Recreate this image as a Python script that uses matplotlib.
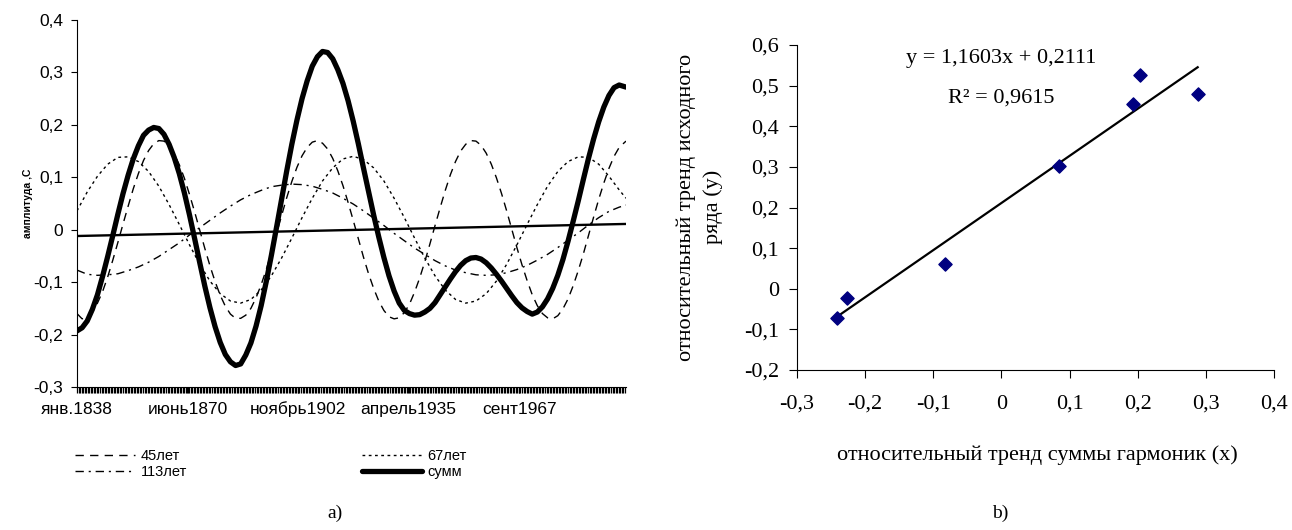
import numpy as np
import matplotlib.pyplot as plt
from matplotlib.ticker import FuncFormatter, FixedLocator

W, H = 1292, 530

# ---- left panel: harmonics ----
# fine grid (every 1.5 years) for the fast 45-year wave and the sum
years_fine = list(np.arange(1838, 1997.5, 1.5)) + [1999]
# coarse grid (every 3 years) for the slow 67- and 113-year waves
years = list(range(1838, 1998, 3)) + [1999]

h45 = [-0.160, -0.170, -0.167, -0.157, -0.140, -0.118, -0.090, -0.058, -0.024, 0.011,
       0.045, 0.078, 0.107, 0.132, 0.151, 0.164, 0.170, 0.169, 0.160, 0.145,
       0.124, 0.098, 0.067, 0.034, -0.001, -0.036, -0.069, -0.099, -0.125, -0.146,
       -0.161, -0.169, -0.169, -0.163, -0.150, -0.130, -0.105, -0.076, -0.043, -0.008,
       0.027, 0.061, 0.092, 0.119, 0.141, 0.157, 0.167, 0.170, 0.165, 0.154,
       0.136, 0.112, 0.084, 0.052, 0.018, -0.017, -0.052, -0.084, -0.112, -0.136,
       -0.154, -0.166, -0.170, -0.168, -0.158, -0.142, -0.119, -0.092, -0.061, -0.027,
       0.008, 0.042, 0.075, 0.105, 0.130, 0.150, 0.163, 0.170, 0.169, 0.161,
       0.146, 0.125, 0.099, 0.069, 0.036, 0.001, -0.034, -0.067, -0.097, -0.124,
       -0.145, -0.160, -0.168, -0.170, -0.164, -0.151, -0.132, -0.107, -0.078, -0.046,
       -0.011, 0.024, 0.058, 0.089, 0.117, 0.140, 0.157, 0.169]

summ = [-0.193, -0.187, -0.174, -0.152, -0.124, -0.089, -0.051, -0.011, 0.030, 0.069,
        0.104, 0.135, 0.160, 0.180, 0.190, 0.195, 0.193, 0.182, 0.163, 0.138,
        0.107, 0.070, 0.028, -0.017, -0.063, -0.108, -0.149, -0.185, -0.215, -0.238,
        -0.252, -0.259, -0.256, -0.239, -0.216, -0.184, -0.145, -0.099, -0.049, 0.004,
        0.058, 0.112, 0.163, 0.209, 0.250, 0.284, 0.312, 0.330, 0.340, 0.338,
        0.326, 0.305, 0.279, 0.246, 0.207, 0.164, 0.118, 0.073, 0.028, -0.014,
        -0.053, -0.088, -0.117, -0.140, -0.154, -0.160, -0.163, -0.162, -0.157, -0.150,
        -0.139, -0.124, -0.109, -0.094, -0.080, -0.068, -0.059, -0.054, -0.053, -0.056,
        -0.063, -0.073, -0.085, -0.098, -0.112, -0.126, -0.139, -0.149, -0.156, -0.161,
        -0.157, -0.147, -0.132, -0.112, -0.087, -0.057, -0.022, 0.016, 0.055, 0.096,
        0.136, 0.173, 0.206, 0.234, 0.256, 0.271, 0.276, 0.272]

h67 = [0.036, 0.072, 0.102, 0.125, 0.138, 0.139, 0.130, 0.111, 0.083, 0.048,
       0.010, -0.029, -0.066, -0.098, -0.122, -0.136, -0.140, -0.133, -0.115, -0.088,
       -0.054, -0.016, 0.023, 0.060, 0.093, 0.118, 0.135, 0.140, 0.134, 0.118,
       0.093, 0.060, 0.023, -0.016, -0.054, -0.088, -0.115, -0.133, -0.140, -0.136,
       -0.122, -0.098, -0.066, -0.029, 0.010, 0.048, 0.083, 0.111, 0.130, 0.139,
       0.138, 0.125, 0.102, 0.076, 0.060]

h113 = [-0.077, -0.085, -0.087, -0.086, -0.084, -0.078, -0.071, -0.062, -0.051, -0.038,
        -0.025, -0.010, 0.004, 0.018, 0.032, 0.045, 0.057, 0.067, 0.075, 0.082,
        0.085, 0.087, 0.086, 0.083, 0.077, 0.070, 0.060, 0.049, 0.036, 0.022,
        0.008, -0.007, -0.021, -0.035, -0.047, -0.059, -0.069, -0.077, -0.082, -0.086,
        -0.087, -0.086, -0.082, -0.076, -0.068, -0.058, -0.047, -0.034, -0.020, -0.006,
        0.009, 0.023, 0.035, 0.043, 0.047]

trend_years = [1838, 1999]
trend_vals = [-0.012, 0.011]

xtick_pos = [1838.0, 1838 + 389 / 12, 1838 + 778 / 12, 1838 + 1167 / 12, 1838 + 1556 / 12]
xtick_labels = ["янв.1838", "июнь1870", "ноябрь1902", "апрель1935", "сент1967"]

# ---- right panel: regression ----
x_rel = [-0.241, -0.227, -0.083, 0.084, 0.193, 0.204, 0.288]
y_rel = [-0.073, -0.023, 0.060, 0.301, 0.455, 0.526, 0.480]
slope, intercept = 1.1603, 0.2111
r2 = 0.9615


def comma(v, pos=None):
    if abs(v) < 1e-9:
        return "0"
    return f"{v:.1f}".replace(".", ",")


fig = plt.figure(figsize=(W / 100, H / 100), dpi=100)

# left chart
sans = "Liberation Sans"
ax1 = fig.add_axes([77 / W, 1 - 387 / H, (626 - 77) / W, (387 - 20) / H])
l45, = ax1.plot(years_fine, h45, color="k", lw=1.0, ls=(0, (6, 4.5)))
l67, = ax1.plot(years, h67, color="k", lw=1.0, ls=(0, (2, 2.5)))
l113, = ax1.plot(years, h113, color="k", lw=1.0, ls=(0, (6, 3.5, 1.5, 3.5)))
ax1.plot(trend_years, trend_vals, color="k", lw=1.7)
lsum, = ax1.plot(years_fine, summ, color="k", lw=3.8, solid_capstyle="round",
                 solid_joinstyle="round")
ax1.set_xlim(1838, 1999)
ax1.set_ylim(-0.3, 0.4)
for s in ("top", "right"):
    ax1.spines[s].set_visible(False)
ax1.yaxis.set_major_locator(FixedLocator(np.arange(-0.3, 0.41, 0.1)))
ax1.yaxis.set_major_formatter(FuncFormatter(comma))
ax1.set_xticks(xtick_pos)
ax1.set_xticklabels(xtick_labels)
ax1.xaxis.set_minor_locator(FixedLocator(np.arange(1838, 1999.01, 0.45)))
ax1.tick_params(axis="x", which="both", direction="out", length=4.5, width=0.9, pad=6)
ax1.tick_params(axis="y", direction="out", length=4, width=0.8, pad=6)
for t in ax1.get_xticklabels() + ax1.get_yticklabels():
    t.set_fontfamily(sans)
    t.set_fontsize(12.5)
fig.text(28 / W, 1 - 203 / H, "амплитуда ,С", rotation=90, ha="center", va="center",
         fontsize=7.5, fontweight="bold", family=sans)

leg_kw = dict(loc="upper left", frameon=False, handlelength=4.1, handletextpad=0.4,
              labelspacing=0.12, borderpad=0, borderaxespad=0,
              prop={"family": sans, "size": 10.5})
fig.legend([l45, l113], ["45лет", "113лет"], bbox_to_anchor=(75 / W, 1 - 449 / H), **leg_kw)
fig.legend([l67, lsum], ["67лет", "сумм"], bbox_to_anchor=(362 / W, 1 - 449 / H), **leg_kw)

# right chart
serif = "Liberation Serif"
ax2 = fig.add_axes([797 / W, 1 - 370 / H, (1274 - 797) / W, (370 - 45) / H])
ax2.scatter(x_rel, y_rel, marker="D", s=45, color="#000080", zorder=3)
fx = np.array([min(x_rel), max(x_rel)])
ax2.plot(fx, slope * fx + intercept, color="k", lw=1.6)
ax2.set_xlim(-0.3, 0.4)
ax2.set_ylim(-0.2, 0.6)
for s in ("top", "right"):
    ax2.spines[s].set_visible(False)
ax2.xaxis.set_major_locator(FixedLocator(np.arange(-0.3, 0.41, 0.1)))
ax2.yaxis.set_major_locator(FixedLocator(np.arange(-0.2, 0.61, 0.1)))
ax2.xaxis.set_major_formatter(FuncFormatter(comma))
ax2.yaxis.set_major_formatter(FuncFormatter(comma))
ax2.tick_params(axis="x", direction="out", length=6, width=0.8, pad=12)
ax2.tick_params(axis="y", direction="out", length=6, width=0.8, pad=7)
for t in ax2.get_xticklabels() + ax2.get_yticklabels():
    t.set_fontfamily(serif)
    t.set_fontsize(16)
ax2.text(0.0, 0.566, "y = 1,1603x + 0,2111", ha="center", va="center",
         fontsize=16, family=serif)
ax2.text(0.0, 0.470, "R² = " + f"{r2:.4f}".replace(".", ","), ha="center", va="center",
         fontsize=16, family=serif)
fig.text(1037 / W, 1 - 455 / H, "относительный тренд суммы гармоник (x)",
         ha="center", va="center", fontsize=16, family=serif)
fig.text(700 / W, 1 - 207 / H, "относительный тренд исходного\nряда (y)",
         rotation=90, ha="center", va="center", multialignment="center",
         linespacing=1.5, fontsize=16, family=serif)

fig.text(335 / W, 1 - 513 / H, "a)", ha="center", va="center", fontsize=14, family=serif)
fig.text(1000 / W, 1 - 513 / H, "b)", ha="center", va="center", fontsize=14, family=serif)

fig.savefig("out.png", dpi=100)
